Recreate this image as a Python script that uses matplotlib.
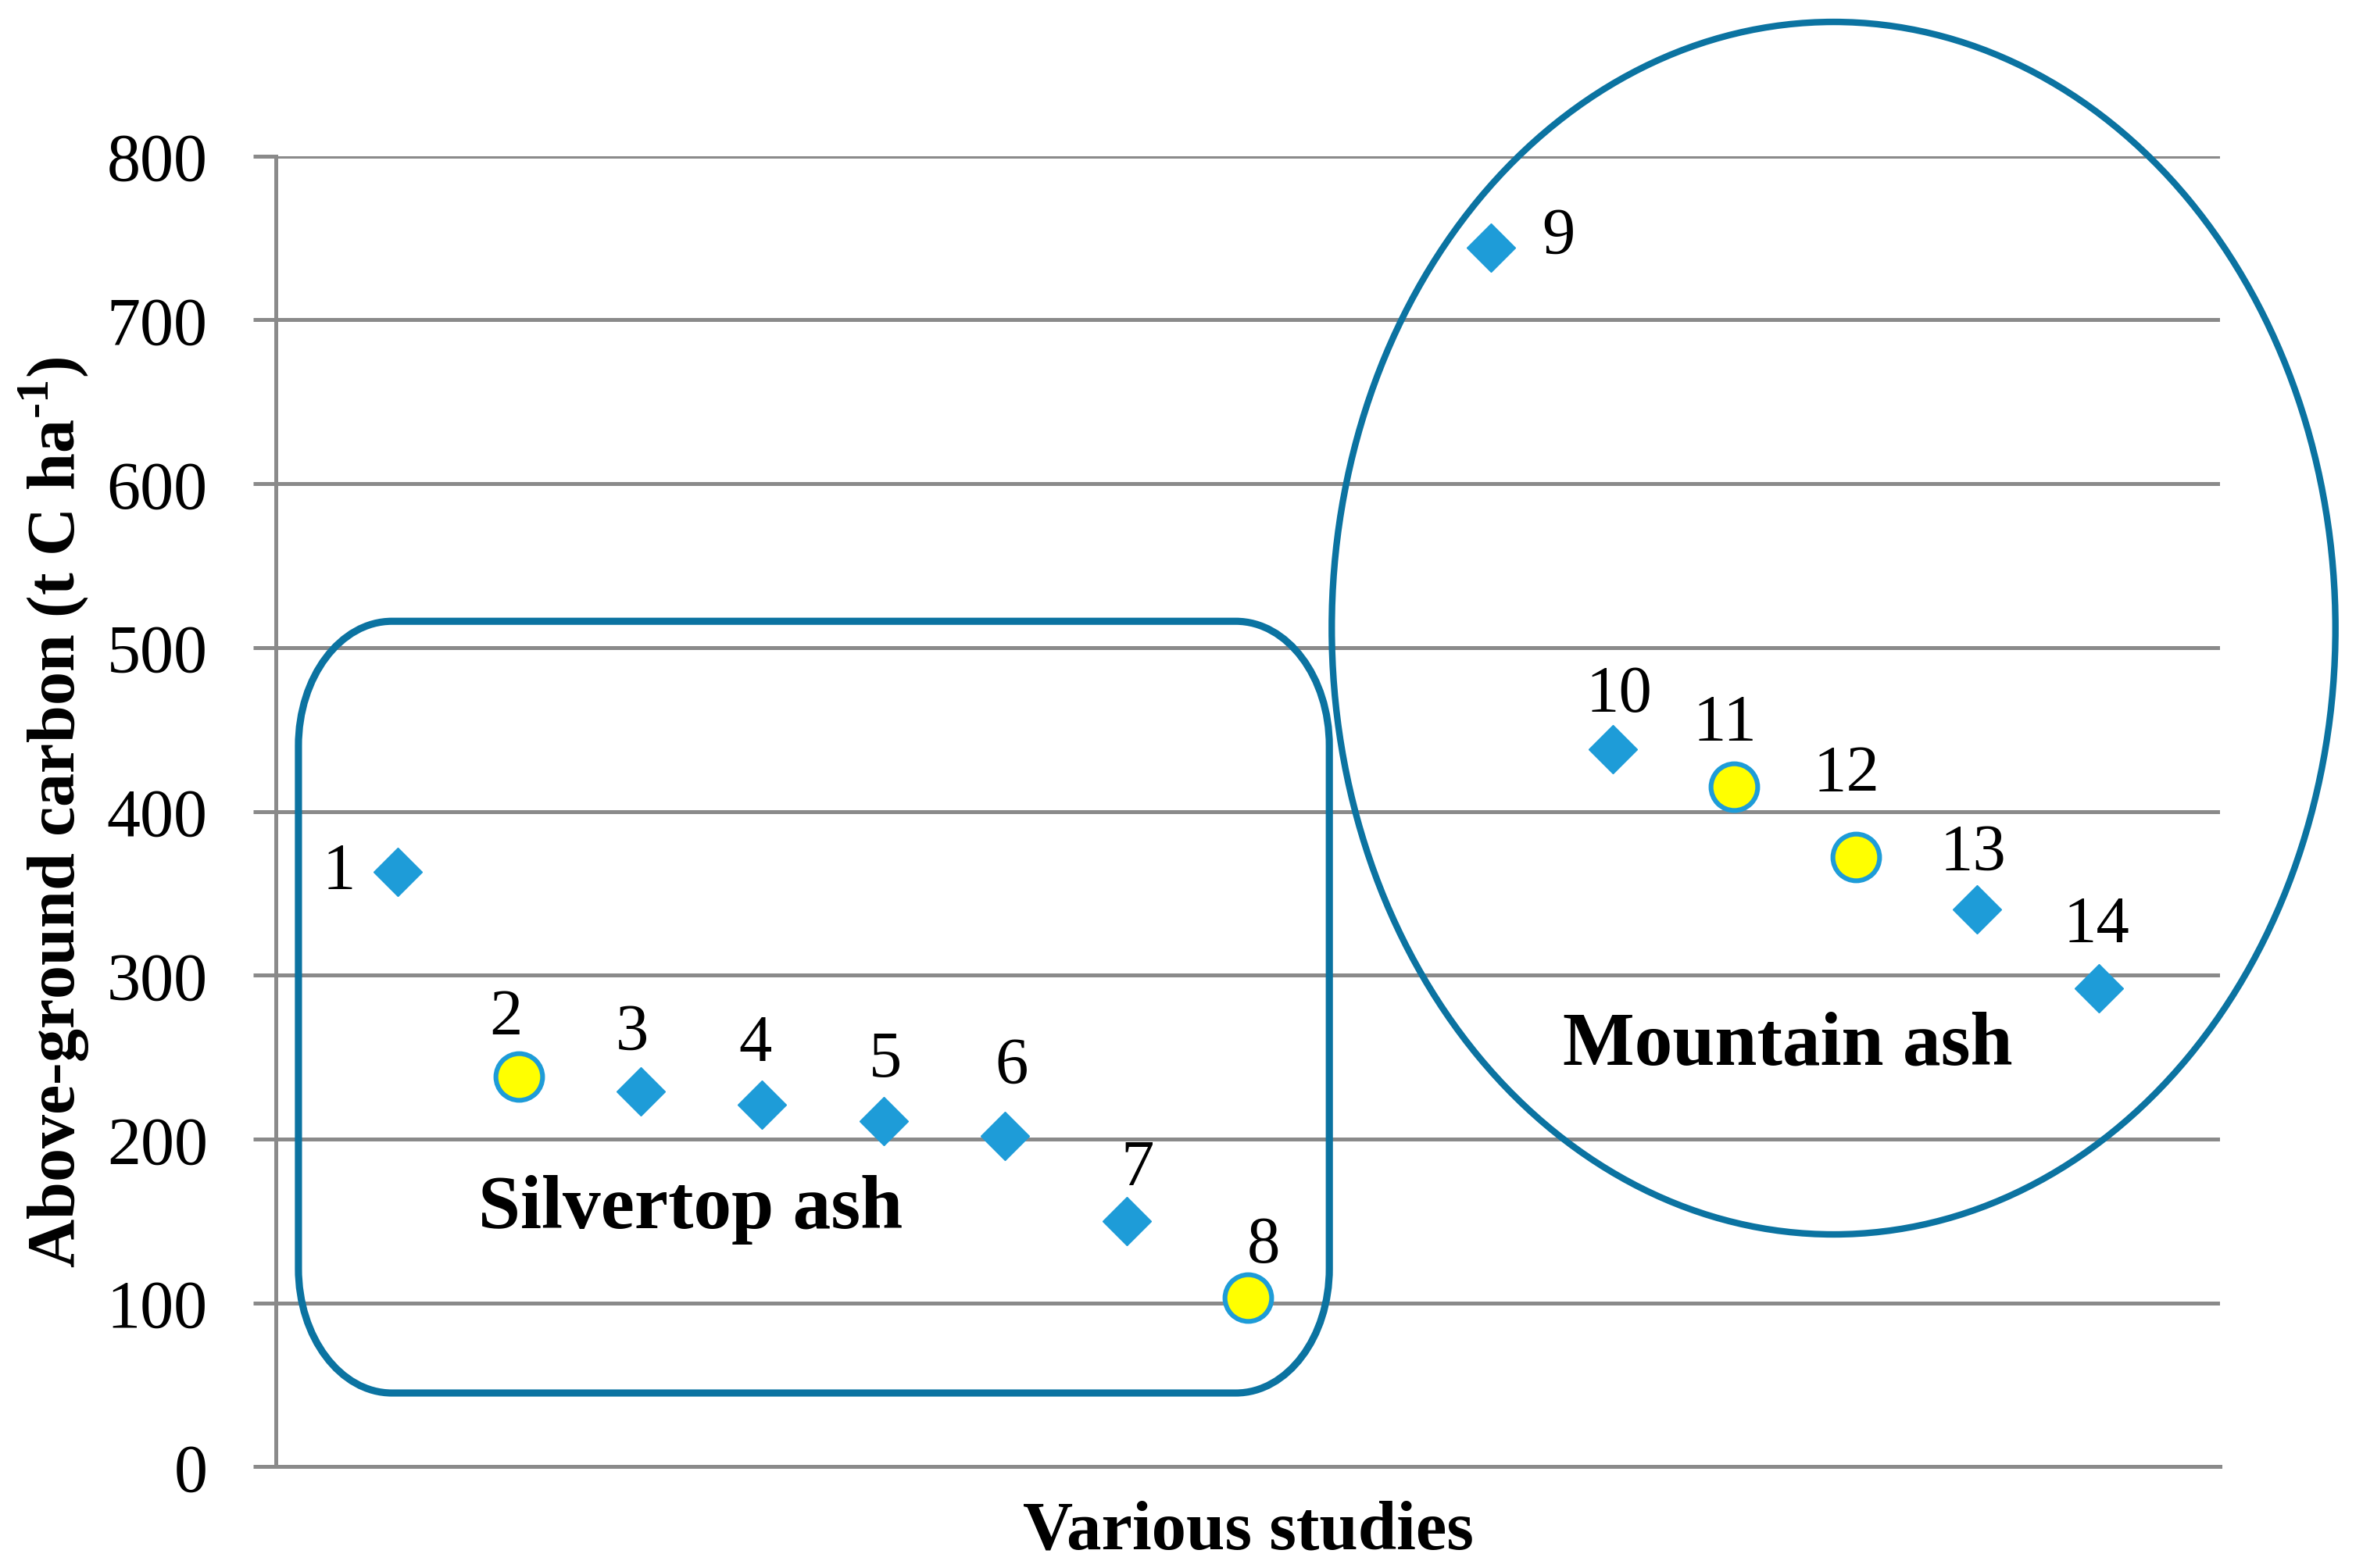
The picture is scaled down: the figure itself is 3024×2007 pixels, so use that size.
import matplotlib
matplotlib.use("Agg")
import matplotlib.pyplot as plt
from matplotlib.path import Path
from matplotlib.patches import PathPatch, Ellipse

plt.rcParams['font.family'] = ['Liberation Serif', 'DejaVu Serif']
plt.rcParams['mathtext.fontset'] = 'custom'
plt.rcParams['mathtext.rm'] = 'Liberation Serif'
plt.rcParams['mathtext.bf'] = 'Liberation Serif:bold'

# ---- data ----
study_ids = [1, 2, 3, 4, 5, 6, 7, 8, 9, 10, 11, 12, 13, 14]
study_pos = [1, 2, 3, 4, 5, 6, 7, 8, 10, 11, 12, 13, 14, 15]
carbon = [363, 238, 229, 221, 211, 202, 150, 103, 744, 438, 415, 372, 340, 292]
circle_study = [False, True, False, False, False, False, False, True,
                False, False, True, True, False, False]
y_ticks = [0, 100, 200, 300, 400, 500, 600, 700, 800]
group_names = ["Silvertop ash", "Mountain ash"]

# label offsets (points) for the study numbers
label_offsets = [(-27, 0), (-6, 27), (-4, 27), (-3, 28), (1, 28), (3, 32), (5, 24),
                 (7, 24), (31, 5), (3, 25), (-4, 29), (-4, 38), (-2, 26), (-1, 29)]

W, H = 3024, 2008
fig = plt.figure(figsize=(W / 200, H / 200), dpi=200)
L, R, T, B = 353, 2841, 200.6, 1878.4
ax = fig.add_axes([L / W, 1 - B / H, (R - L) / W, (B - T) / H])
ax.set_xlim(0, 16)
ax.set_ylim(0, 800)

grid_c = '#8a8a8a'
ax.set_yticks(y_ticks)
ax.yaxis.grid(True, color=grid_c, lw=1.8)
ax.set_axisbelow(True)
ax.set_xticks([])
for s in ['top', 'right']:
    ax.spines[s].set_visible(False)
for s in ['left', 'bottom']:
    ax.spines[s].set_color(grid_c)
    ax.spines[s].set_linewidth(1.8)
ax.tick_params(axis='y', length=10.4, width=1.8, color=grid_c, pad=21,
               labelsize=31, labelcolor='black')

diamond_c = '#1e9cd8'
shape_c = '#0b73a1'

dx = [p for p, c in zip(study_pos, circle_study) if not c]
dy = [v for v, c in zip(carbon, circle_study) if not c]
cx = [p for p, c in zip(study_pos, circle_study) if c]
cy = [v for v, c in zip(carbon, circle_study) if c]
ax.plot(dx, dy, linestyle='none', marker='D', ms=15.8, mfc=diamond_c,
        mec=diamond_c, mew=0.5, zorder=5, clip_on=False)
ax.plot(cx, cy, linestyle='none', marker='o', ms=21.5, mfc='#ffff00',
        mec=diamond_c, mew=2.2, zorder=5, clip_on=False)

for sid, p, v, off in zip(study_ids, study_pos, carbon, label_offsets):
    ax.annotate(str(sid), (p, v), xytext=off, textcoords='offset points',
                ha='center', va='center', fontsize=30.5, color='black', zorder=6)

# rounded rectangle (Silvertop ash group)
def rounded_rect(x0, y0, x1, y1, rx, ry):
    k = 0.5523
    verts = [
        (x0 + rx, y0), (x1 - rx, y0),
        (x1 - rx + k * rx, y0), (x1, y0 + ry - k * ry), (x1, y0 + ry),
        (x1, y1 - ry),
        (x1, y1 - ry + k * ry), (x1 - rx + k * rx, y1), (x1 - rx, y1),
        (x0 + rx, y1),
        (x0 + rx - k * rx, y1), (x0, y1 - ry + k * ry), (x0, y1 - ry),
        (x0, y0 + ry),
        (x0, y0 + ry - k * ry), (x0 + rx - k * rx, y0), (x0 + rx, y0),
        (x0 + rx, y0),
    ]
    C = Path.CURVE4
    codes = [Path.MOVETO, Path.LINETO, C, C, C, Path.LINETO, C, C, C,
             Path.LINETO, C, C, C, Path.LINETO, C, C, C, Path.CLOSEPOLY]
    return Path(verts, codes)

rect = PathPatch(rounded_rect(0.186, 45, 8.67, 516, 0.77, 76), fill=False,
                 ec=shape_c, lw=3.3, zorder=3, clip_on=False)
ax.add_patch(rect)
ell = Ellipse((12.82, 511.8), 8.26, 740, fill=False, ec=shape_c, lw=3.0,
              zorder=3, clip_on=False)
ax.add_patch(ell)

ax.text(3.41, 146, group_names[0], fontsize=35, fontweight='bold',
        ha='center', va='baseline', zorder=6)
ax.text(12.44, 246, group_names[1], fontsize=35, fontweight='bold',
        ha='center', va='baseline', zorder=6)

ax.text(0.5, (B - 1983) / (B - T), "Various studies", transform=ax.transAxes,
        fontsize=32, fontweight='bold', ha='center', va='baseline')
ax.text((69 - L) / (R - L), 0.5, "Above-ground carbon (t C ha$^{\\mathbf{\u2010}\\mathbf{1}}$)",
        transform=ax.transAxes, rotation=90, fontsize=31, fontweight='bold',
        ha='center', va='center')

fig.savefig('out.png', dpi=200)
